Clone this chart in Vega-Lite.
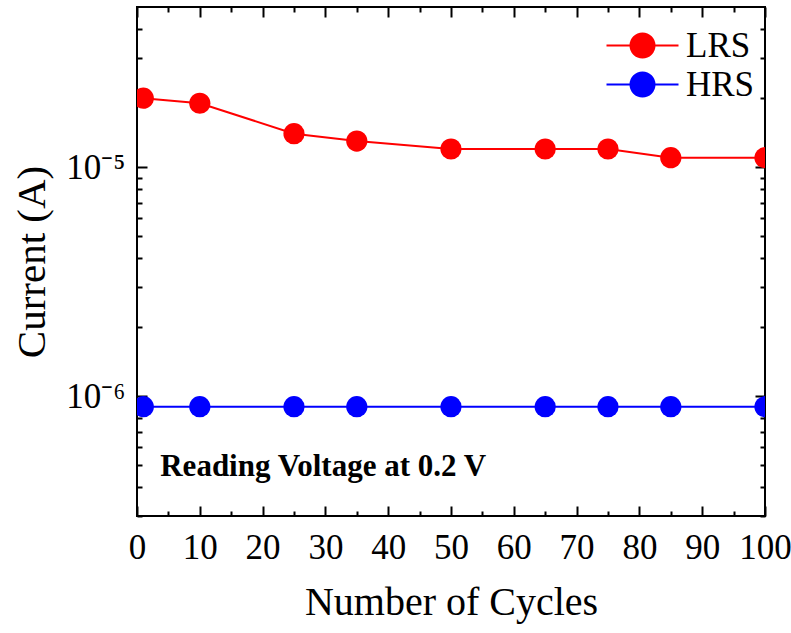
{
  "$schema": "https://vega.github.io/schema/vega-lite/v6.json",
  "width": 628,
  "height": 509,
  "autosize": {"type": "none"},
  "padding": {"left": 137, "top": 7, "right": 26, "bottom": 117},
  "background": "white",
  "config": {
    "view": {"stroke": "black", "strokeWidth": 2},
    "font": "Liberation Serif",
    "axis": {
      "grid": false,
      "domain": false,
      "tickColor": "black",
      "tickWidth": 2,
      "labelColor": "black",
      "labelFont": "Liberation Serif",
      "titleFont": "Liberation Serif",
      "titleColor": "black",
      "titleFontWeight": "normal"
    }
  },
  "datasets": {
    "iv": [
      {"cycle": 1, "current": 2.0e-5, "state": "LRS"},
      {"cycle": 10, "current": 1.9e-5, "state": "LRS"},
      {"cycle": 25, "current": 1.4e-5, "state": "LRS"},
      {"cycle": 35, "current": 1.3e-5, "state": "LRS"},
      {"cycle": 50, "current": 1.2e-5, "state": "LRS"},
      {"cycle": 65, "current": 1.2e-5, "state": "LRS"},
      {"cycle": 75, "current": 1.2e-5, "state": "LRS"},
      {"cycle": 85, "current": 1.1e-5, "state": "LRS"},
      {"cycle": 100, "current": 1.1e-5, "state": "LRS"},
      {"cycle": 1, "current": 9e-7, "state": "HRS"},
      {"cycle": 10, "current": 9e-7, "state": "HRS"},
      {"cycle": 25, "current": 9e-7, "state": "HRS"},
      {"cycle": 35, "current": 9e-7, "state": "HRS"},
      {"cycle": 50, "current": 9e-7, "state": "HRS"},
      {"cycle": 65, "current": 9e-7, "state": "HRS"},
      {"cycle": 75, "current": 9e-7, "state": "HRS"},
      {"cycle": 85, "current": 9e-7, "state": "HRS"},
      {"cycle": 100, "current": 9e-7, "state": "HRS"}
    ],
    "note": [
      {"cycle": 3.7, "current": 4.9e-7, "text": "Reading Voltage at 0.2 V"}
    ]
  },
  "layer": [
    {
      "data": {"name": "iv"},
      "mark": {"type": "line", "strokeWidth": 2, "clip": true},
      "encoding": {
        "x": {
          "field": "cycle", "type": "quantitative",
          "scale": {"domain": [0, 100], "nice": false, "zero": false},
          "axis": {
            "orient": "bottom",
            "values": [0, 10, 20, 30, 40, 50, 60, 70, 80, 90, 100],
            "ticks": false,
            "tickSize": 0,
            "labelFontSize": 35,
            "labelPadding": 14,
            "labelFlush": false,
            "labelOverlap": false,
            "title": "Number of Cycles",
            "titleFontSize": 40,
            "titlePadding": 17
          }
        },
        "y": {
          "field": "current", "type": "quantitative",
          "scale": {"type": "log", "domain": [3e-7, 5e-5], "nice": false},
          "axis": {
            "orient": "left",
            "values": [1e-6, 1e-5],
            "labelExpr": "datum.value > 5e-6 ? '10⁻⁵' : '10⁻⁶'",
            "ticks": false,
            "tickSize": 0,
            "labelFontSize": 35,
            "labelPadding": 12,
            "labelFlush": false,
            "title": "Current (A)",
            "titleFontSize": 41,
            "titlePadding": 12
          }
        },
        "color": {
          "field": "state", "type": "nominal",
          "scale": {"domain": ["LRS", "HRS"], "range": ["#ff0000", "#0000ff"]},
          "legend": {
            "title": null,
            "orient": "none",
            "legendX": 488,
            "legendY": 21,
            "padding": 0,
            "symbolType": "M-3,0L3,0M1,0A1,1 0 1,1 -1,0A1,1 0 1,1 1,0Z",
            "symbolSize": 576,
            "symbolStrokeWidth": 2,
            "symbolOpacity": 1,
            "labelFont": "Liberation Serif",
            "labelFontSize": 35,
            "labelColor": "black",
            "labelOffset": 26,
            "rowPadding": 3,
            "encode": {
              "symbols": {
                "update": {
                  "fill": {"scale": "color", "field": "value"},
                  "stroke": {"scale": "color", "field": "value"},
                  "strokeWidth": {"value": 2},
                  "opacity": {"value": 1}
                }
              }
            }
          }
        }
      }
    },
    {
      "data": {"name": "iv"},
      "mark": {"type": "circle", "size": 450, "opacity": 1, "clip": true},
      "encoding": {
        "x": {"field": "cycle", "type": "quantitative", "scale": {"domain": [0, 100], "nice": false, "zero": false}, "axis": null},
        "y": {"field": "current", "type": "quantitative", "scale": {"type": "log", "domain": [3e-7, 5e-5], "nice": false}, "axis": null},
        "color": {"field": "state", "type": "nominal", "scale": {"domain": ["LRS", "HRS"], "range": ["#ff0000", "#0000ff"]}, "legend": null}
      }
    },
    {
      "data": {"name": "iv"},
      "mark": {"type": "point", "opacity": 0},
      "encoding": {
        "x": {
          "field": "cycle", "type": "quantitative",
          "scale": {"domain": [0, 100], "nice": false, "zero": false},
          "axis": {"orient": "bottom", "offset": -10, "values": [0, 10, 20, 30, 40, 50, 60, 70, 80, 90, 100], "tickSize": 10, "labels": false, "title": null}
        },
        "y": {
          "field": "current", "type": "quantitative",
          "scale": {"type": "log", "domain": [3e-7, 5e-5], "nice": false},
          "axis": {"orient": "left", "offset": -10, "values": [1e-6, 1e-5], "tickSize": 10, "labels": false, "title": null}
        }
      }
    },
    {
      "data": {"name": "iv"},
      "mark": {"type": "point", "opacity": 0},
      "encoding": {
        "x": {
          "field": "cycle", "type": "quantitative",
          "scale": {"domain": [0, 100], "nice": false, "zero": false},
          "axis": {"orient": "bottom", "offset": -5, "values": [5, 15, 25, 35, 45, 55, 65, 75, 85, 95], "tickSize": 5, "labels": false, "title": null}
        },
        "y": {
          "field": "current", "type": "quantitative",
          "scale": {"type": "log", "domain": [3e-7, 5e-5], "nice": false},
          "axis": {"orient": "left", "offset": -5, "values": [3e-7, 4e-7, 5e-7, 6e-7, 7e-7, 8e-7, 9e-7, 2e-6, 3e-6, 4e-6, 5e-6, 6e-6, 7e-6, 8e-6, 9e-6, 2e-5, 3e-5, 4e-5], "tickSize": 5, "labels": false, "title": null}
        }
      }
    },
    {
      "data": {"name": "iv"},
      "mark": {"type": "point", "opacity": 0},
      "encoding": {
        "x": {
          "field": "cycle", "type": "quantitative",
          "scale": {"domain": [0, 100], "nice": false, "zero": false},
          "axis": {"orient": "top", "offset": -10, "values": [0, 10, 20, 30, 40, 50, 60, 70, 80, 90, 100], "tickSize": 10, "labels": false, "title": null}
        },
        "y": {
          "field": "current", "type": "quantitative",
          "scale": {"type": "log", "domain": [3e-7, 5e-5], "nice": false},
          "axis": {"orient": "right", "offset": -10, "values": [1e-6, 1e-5], "tickSize": 10, "labels": false, "title": null}
        }
      }
    },
    {
      "data": {"name": "iv"},
      "mark": {"type": "point", "opacity": 0},
      "encoding": {
        "x": {
          "field": "cycle", "type": "quantitative",
          "scale": {"domain": [0, 100], "nice": false, "zero": false},
          "axis": {"orient": "top", "offset": -5, "values": [5, 15, 25, 35, 45, 55, 65, 75, 85, 95], "tickSize": 5, "labels": false, "title": null}
        },
        "y": {
          "field": "current", "type": "quantitative",
          "scale": {"type": "log", "domain": [3e-7, 5e-5], "nice": false},
          "axis": {"orient": "right", "offset": -5, "values": [3e-7, 4e-7, 5e-7, 6e-7, 7e-7, 8e-7, 9e-7, 2e-6, 3e-6, 4e-6, 5e-6, 6e-6, 7e-6, 8e-6, 9e-6, 2e-5, 3e-5, 4e-5], "tickSize": 5, "labels": false, "title": null}
        }
      }
    },
    {
      "data": {"name": "note"},
      "mark": {"type": "text", "align": "left", "baseline": "middle", "font": "Liberation Serif", "fontWeight": "bold", "fontSize": 31, "color": "black"},
      "encoding": {
        "x": {"field": "cycle", "type": "quantitative", "scale": {"domain": [0, 100], "nice": false, "zero": false}, "axis": null},
        "y": {"field": "current", "type": "quantitative", "scale": {"type": "log", "domain": [3e-7, 5e-5], "nice": false}, "axis": null},
        "text": {"field": "text"}
      }
    }
  ],
  "resolve": {"axis": {"x": "independent", "y": "independent"}}
}
